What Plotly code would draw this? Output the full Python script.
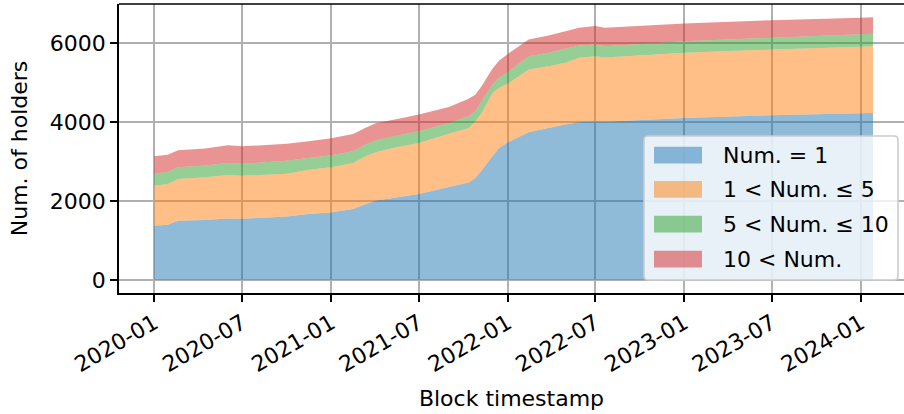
import plotly.graph_objects as go

dates = [
    "2020-01-01", "2020-01-29", "2020-02-19", "2020-04-15", "2020-06-01",
    "2020-07-01", "2020-10-01", "2020-11-15", "2021-01-01", "2021-02-15",
    "2021-03-15", "2021-04-04", "2021-05-15", "2021-07-01", "2021-09-01",
    "2021-10-12", "2021-10-26", "2021-11-09", "2021-11-30", "2021-12-14",
    "2022-01-01", "2022-02-13", "2022-03-26", "2022-04-30", "2022-05-28",
    "2022-07-01", "2022-07-20", "2023-01-01", "2023-07-01", "2024-01-01",
    "2024-01-26",
]

num_eq_1 = [1372, 1400, 1499, 1520, 1558, 1549, 1609, 1668, 1710, 1795,
            1930, 2014, 2091, 2176, 2353, 2471, 2583, 2794, 3132, 3345,
            3490, 3741, 3853, 3937, 3997, 4021, 4010, 4106, 4174, 4225,
            4233]
num_1_5 = [1016, 1030, 1059, 1080, 1101, 1093, 1083, 1126, 1143, 1168,
           1220, 1229, 1271, 1296, 1355, 1382, 1438, 1460, 1600, 1524,
           1490, 1593, 1566, 1567, 1634, 1651, 1630, 1651, 1668, 1685,
           1694]
num_5_10 = [304, 310, 295, 300, 304, 304, 331, 296, 305, 297,
            296, 297, 296, 295, 272, 295, 254, 300, 220, 254,
            290, 338, 338, 355, 313, 297, 287, 297, 297, 322,
            313]
num_gt_10 = [440, 435, 432, 430, 449, 440, 431, 424, 432, 440,
             423, 440, 415, 424, 405, 442, 424, 380, 400, 440,
             460, 424, 441, 449, 449, 466, 466, 448, 448, 414,
             423]

series_names = ["Num. = 1", "1 < Num. ≤ 5", "5 < Num. ≤ 10", "10 < Num."]
series_values = [num_eq_1, num_1_5, num_5_10, num_gt_10]
fill_colors = ["rgba(31,119,180,0.5)", "rgba(255,127,14,0.5)",
               "rgba(44,160,44,0.5)", "rgba(214,39,40,0.5)"]

tick_dates = ["2020-01-01", "2020-07-01", "2021-01-01", "2021-07-01",
              "2022-01-01", "2022-07-01", "2023-01-01", "2023-07-01",
              "2024-01-01"]
tick_labels = ["2020-01", "2020-07", "2021-01", "2021-07", "2022-01",
               "2022-07", "2023-01", "2023-07", "2024-01"]
y_ticks = [0, 2000, 4000, 6000]

FONT = "DejaVu Sans"
FS = 22

W, H = 904, 414
ML, MR, MT, MB = 119, 0, 4, 121
PW, PH = W - ML - MR, H - MT - MB


def px(xp):
    return (xp - ML) / PW


def py(yp):
    return (H - MB - yp) / PH


fig = go.Figure()
for i, (name, vals, col) in enumerate(zip(series_names, series_values, fill_colors)):
    fig.add_trace(go.Scatter(
        x=dates, y=vals, name=name, mode="none",
        stackgroup="one", fillcolor=col, line=dict(width=0),
        showlegend=False, hoverinfo="skip",
    ))

axis_common = dict(
    showgrid=True, gridcolor="#b0b0b0", gridwidth=1.6,
    showline=True, linecolor="black", linewidth=1.6,
    ticks="outside", ticklen=7, tickwidth=1.6, tickcolor="black",
    zeroline=False, automargin=False,
    tickfont=dict(family=FONT, size=FS, color="black"),
)

# manual legend (matplotlib-style patches)
shapes = [dict(type="line", xref="paper", yref="paper", x0=0, x1=1, y0=1, y1=1,
               line=dict(color="black", width=1.6))]
lx0, lx1, ly0, ly1, rad = 644, 898, 136, 280, 4
path = (f"M {px(lx0 + rad)},{py(ly0)} L {px(lx1 - rad)},{py(ly0)} "
        f"Q {px(lx1)},{py(ly0)} {px(lx1)},{py(ly0 + rad)} "
        f"L {px(lx1)},{py(ly1 - rad)} Q {px(lx1)},{py(ly1)} {px(lx1 - rad)},{py(ly1)} "
        f"L {px(lx0 + rad)},{py(ly1)} Q {px(lx0)},{py(ly1)} {px(lx0)},{py(ly1 - rad)} "
        f"L {px(lx0)},{py(ly0 + rad)} Q {px(lx0)},{py(ly0)} {px(lx0 + rad)},{py(ly0)} Z")
shapes.append(dict(type="path", xref="paper", yref="paper", path=path,
                   fillcolor="rgba(255,255,255,0.8)",
                   line=dict(color="#cccccc", width=1.6), layer="above"))
annotations = []
patch_tops = [146.7, 181.0, 215.7, 250.7]
for name, col, top in zip(series_names, fill_colors, patch_tops):
    shapes.append(dict(type="rect", xref="paper", yref="paper",
                       x0=px(654), x1=px(702), y0=py(top + 16.8), y1=py(top),
                       fillcolor=col, line=dict(width=0), layer="above"))
    annotations.append(dict(xref="paper", yref="paper", x=px(721), y=py(top + 8.4),
                            text=name, showarrow=False, xanchor="left", yanchor="middle",
                            font=dict(family=FONT, size=FS, color="black")))

fig.update_layout(
    width=W, height=H,
    margin=dict(l=ML, r=MR, t=MT, b=MB),
    paper_bgcolor="white", plot_bgcolor="white",
    font=dict(family=FONT, size=FS, color="black"),
    xaxis=dict(
        **axis_common,
        range=["2019-10-20", "2024-03-30"],
        tickvals=tick_dates, ticktext=tick_labels, tickangle=-30,
        title=dict(text="Block timestamp", font=dict(family=FONT, size=FS), standoff=15),
    ),
    yaxis=dict(
        **axis_common,
        range=[-333, 6996],
        tickvals=y_ticks, ticktext=[str(v) for v in y_ticks],
        title=dict(text="Num. of holders", font=dict(family=FONT, size=FS), standoff=16),
    ),
    shapes=shapes,
    annotations=annotations,
    showlegend=False,
)

fig.write_html("out.html",
               config={"displayModeBar": False},
               post_script="document.body.style.margin='0px';document.body.style.overflow='hidden';")
